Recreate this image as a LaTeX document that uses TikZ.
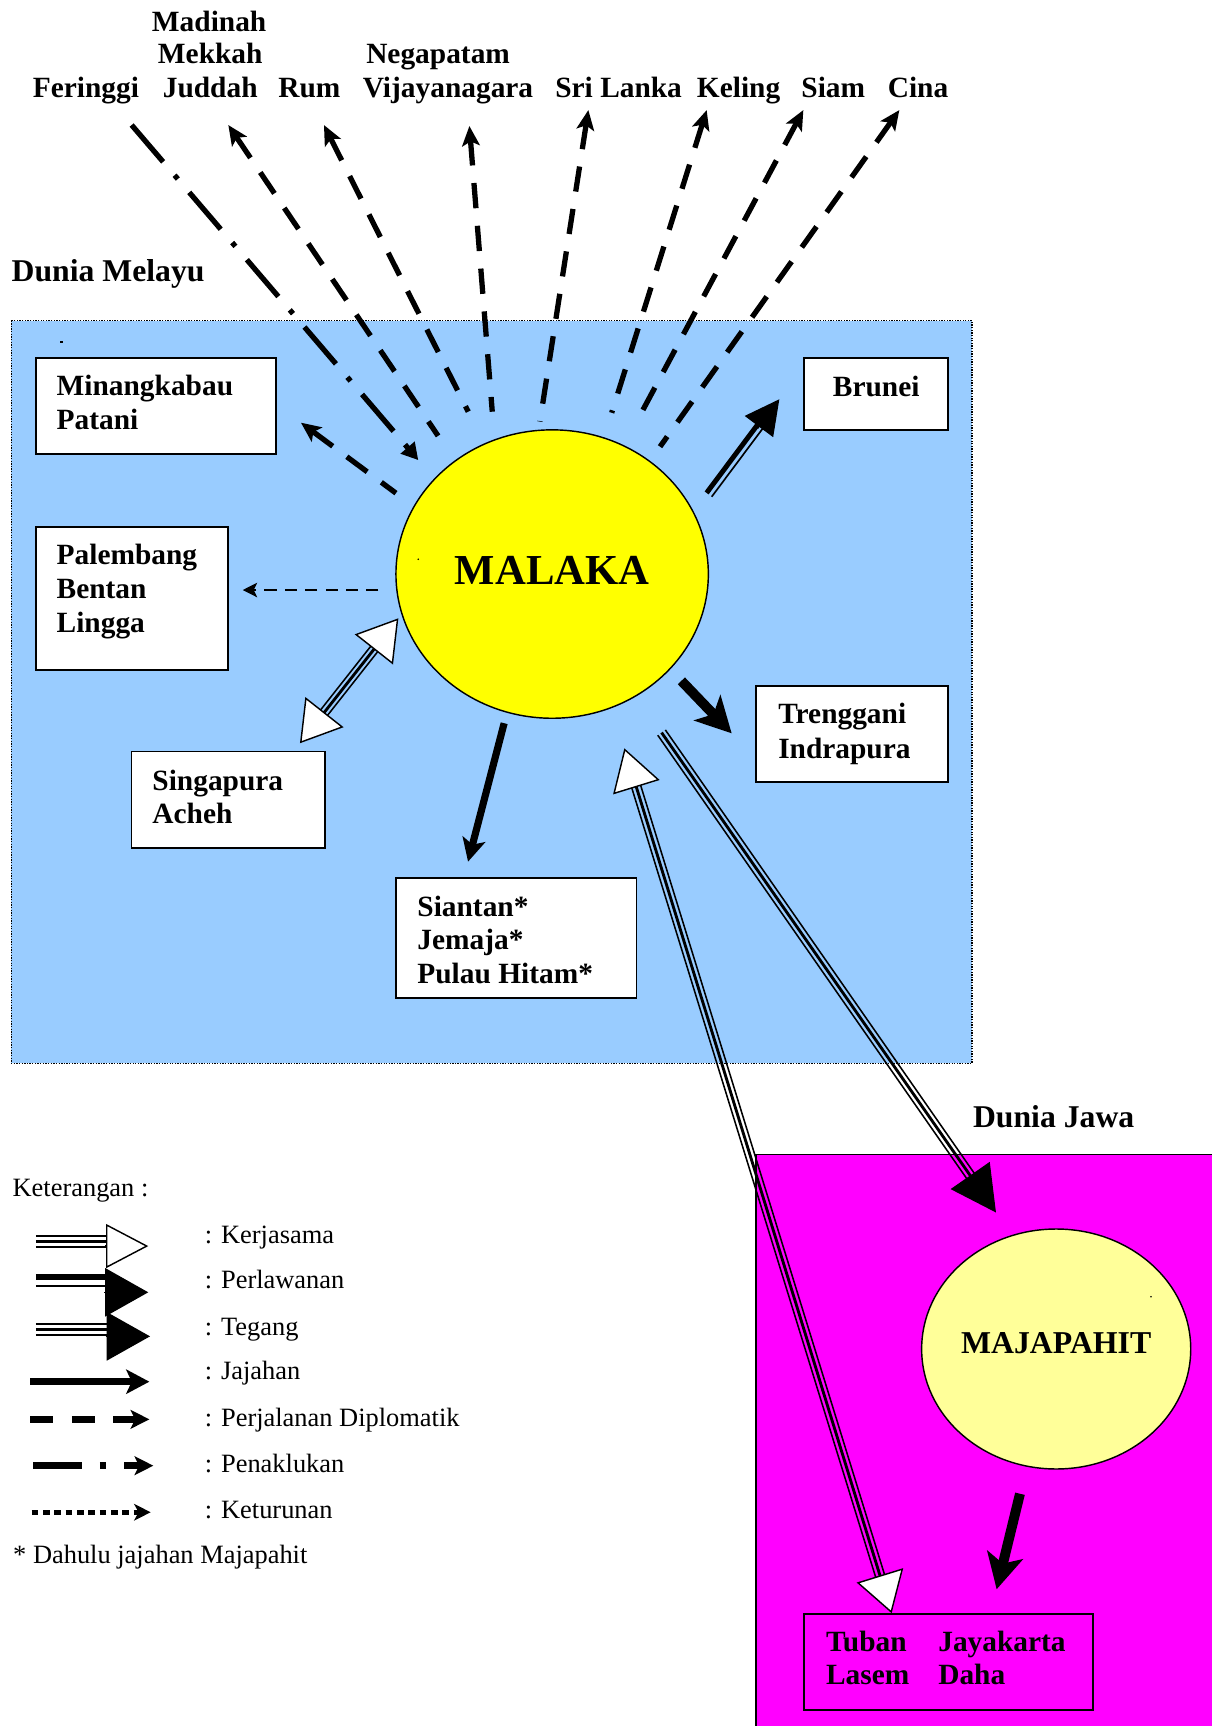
\documentclass[tikz,border=0pt]{standalone}
\usepackage{fontspec}
\setmainfont{Liberation Serif}
\usetikzlibrary{arrows.meta,calc,shapes.geometric}
\definecolor{melayu}{RGB}{153,204,255}
\definecolor{jawa}{RGB}{255,0,255}
\definecolor{malakayel}{RGB}{255,255,0}
\definecolor{majayel}{RGB}{255,255,153}
\newcommand\lblfont{\fontsize{26.7pt}{31pt}\selectfont\bfseries}
\newcommand\dunfont{\fontsize{28.8pt}{33pt}\selectfont\bfseries}
\newcommand\legfont{\fontsize{24pt}{28pt}\selectfont}
\newcommand\tripline[5]{%
  \draw[line width=1.4pt, shorten <=#3, shorten >=#4] ($(#1)!#5!90:(#2)$) -- ($(#2)!#5!-90:(#1)$);
  \draw[line width=2.6pt, shorten <=#3, shorten >=#4] (#1) -- (#2);
  \draw[line width=1.4pt, shorten <=#3, shorten >=#4] ($(#1)!#5!-90:(#2)$) -- ($(#2)!#5!90:(#1)$);
}
\begin{document}
\begin{tikzpicture}[x=1pt,y=-1pt,
  every node/.style={inner sep=0pt,outer sep=0pt},
  box/.style={draw,line width=1.6pt,fill=white,rectangle,anchor=north west},
  lbl/.style={font=\lblfont,anchor=base west},
  toplbl/.style={font=\lblfont,anchor=base},
  leg/.style={font=\legfont,anchor=base west},
  diplo/.style={line width=4.8pt,dash pattern=on 23pt off 16pt,>={Stealth[length=18pt,width=16pt,inset=4pt]},<-},
  whitehead/.style={line width=1.3pt,-{Triangle[length=#1,width=44pt,fill=white]}},
  blackhead/.style={line width=1.3pt,-{Triangle[length=#1,width=43pt]}}
]
\useasboundingbox (0,0) rectangle (1101,1568);
\fill[white] (0,0) rectangle (1101,1568);

% regions
\draw[fill=melayu,line width=1.4pt,dash pattern=on 1.2pt off 1.2pt] (10.4,291.2) rectangle (883,966);
\draw[fill=jawa,line width=1.4pt] (686.8,1048.7) rectangle (1115,1585);
\node[lbl,font=\dunfont] (dmelayu) at (10.6,255.9) {Dunia Melayu};
\node[lbl,font=\dunfont] (djawa) at (884,1024) {Dunia Jawa};

% top labels
\node[toplbl] (madinah) at (190,28.8) {Madinah};
\node[toplbl] (mekkah) at (191,57.5) {Mekkah};
\node[toplbl] (negapatam) at (398,57.5) {Negapatam};
\node[toplbl] (feringgi) at (78,88.4) {Feringgi};
\node[toplbl] (juddah) at (191,88.4) {Juddah};
\node[toplbl] (rum) at (281,88.4) {Rum};
\node[toplbl] (vijaya) at (407,88.4) {Vijayanagara};
\node[toplbl] (srilanka) at (562,88.4) {Sri Lanka};
\node[toplbl] (keling) at (671,88.4) {Keling};
\node[toplbl] (siam) at (757,88.4) {Siam};
\node[toplbl] (cina) at (834,88.4) {Cina};

% boxes
\node[box,minimum width=218.3pt,minimum height=87.2pt] (minang) at (32.4,325.5) {};
\node[lbl] (minang1) at (51.5,359.7) {Minangkabau};
\node[lbl] (minang2) at (51.5,390) {Patani};

\node[box,minimum width=174.7pt,minimum height=130.1pt] (palem) at (32.4,478.5) {};
\node[lbl] (palem1) at (51.5,512.7) {Palembang};
\node[lbl] (palem2) at (51.5,543.5) {Bentan};
\node[lbl] (palem3) at (51.5,574.5) {Lingga};

\node[box,minimum width=175.5pt,minimum height=87.8pt] (singa) at (119.4,682.8) {};
\node[lbl] (singa1) at (138.5,717.7) {Singapura};
\node[lbl] (singa2) at (138.5,748) {Acheh};

\node[box,minimum width=218.5pt,minimum height=109pt] (siantan) at (359.7,797.9) {};
\node[lbl] (siantan1) at (379.2,832.7) {Siantan*};
\node[lbl] (siantan2) at (379.2,862.5) {Jemaja*};
\node[lbl] (siantan3) at (379.2,893.3) {Pulau Hitam*};

\node[box,minimum width=131.1pt,minimum height=65.1pt] (brunei) at (730.4,325.5) {};
\node[toplbl] (brunei1) at (796,360) {Brunei};

\node[box,minimum width=174.7pt,minimum height=87.5pt] (treng) at (686.8,623.2) {};
\node[lbl] (treng1) at (707,657.7) {Trenggani};
\node[lbl] (treng2) at (707,688.9) {Indrapura};

\node[box,fill=jawa,minimum width=262.3pt,minimum height=86.9pt] (tuban) at (730.4,1466.2) {};
\node[lbl] (tuban1) at (750.4,1500.5) {Tuban};
\node[lbl] (tuban2) at (750.4,1530.7) {Lasem};
\node[lbl] (tuban3) at (852.4,1500.5) {Jayakarta};
\node[lbl] (tuban4) at (852.4,1530.7) {Daha};

% ellipses
\node[ellipse,draw,line width=1.3pt,fill=malakayel,minimum width=283.8pt,minimum height=262pt,
  font=\fontsize{38.8pt}{44pt}\selectfont\bfseries,text height=25.7pt,text depth=6pt] (malaka) at (501.6,521.5) {MALAKA};
\node[ellipse,draw,line width=1.3pt,fill=majayel,minimum width=240pt,minimum height=218pt,
  font=\fontsize{28.9pt}{34pt}\selectfont\bfseries,text height=19.1pt,text depth=10.1pt] (maja) at (959.5,1225.5) {MAJAPAHIT};

% tiny marks
\fill (54.5,309.6) rectangle (57.5,311.2);
\fill (380,508) circle (0.8pt);
\fill (1045.6,1178) circle (0.8pt);

% connector end points
\coordinate (ferA) at (119.6,113.6); \coordinate (ferB) at (380,418);
\coordinate (judT) at (207.4,113.6); \coordinate (judM) at (398,396);
\coordinate (rumT) at (294.3,113.6); \coordinate (rumM) at (425.4,374);
\coordinate (vijT) at (426.4,114.5); \coordinate (vijM) at (447.2,374);
\coordinate (sriT) at (534.5,100); \coordinate (sriM) at (490.5,383);
\coordinate (kelT) at (642,100); \coordinate (kelM) at (555.7,375);
\coordinate (siaT) at (729.8,100); \coordinate (siaM) at (578.4,383);
\coordinate (cinT) at (817,100); \coordinate (cinM) at (599.6,405.8);
\coordinate (minT) at (273.4,384); \coordinate (minM) at (359.7,448);
\coordinate (palM) at (343.7,536); \coordinate (palT) at (220.5,536);
\coordinate (sinA) at (272.5,675.2); \coordinate (sinB) at (361.9,561.7);
\coordinate (bruS) at (643.5,449); \coordinate (bruT) at (708,362.7);
\coordinate (treS) at (619,618.5); \coordinate (treT) at (664.7,666.2);
\coordinate (sntS) at (458,657); \coordinate (sntT) at (425.2,782.8);
\coordinate (tegS) at (601,665.5); \coordinate (tegT) at (904.8,1101.5);
\coordinate (tubM) at (567.2,679.8); \coordinate (tubT) at (810,1465.5);
\coordinate (majS) at (926.6,1357); \coordinate (majT) at (905.4,1443.8);

% Penaklukan (Feringgi)
\draw[line width=4.8pt,dash pattern=on 44pt off 16pt on 4.5pt off 16pt,-{Triangle[length=15pt,width=16pt]}] (ferA) -- (ferB);
% Diplomatik
\draw[diplo] (judT) -- (judM);
\draw[diplo] (rumT) -- (rumM);
\draw[diplo] (vijT) -- (vijM);
\draw[diplo] (sriT) -- (sriM);
\draw[diplo] (kelT) -- (kelM);
\draw[diplo] (siaT) -- (siaM);
\draw[diplo] (cinT) -- (cinM);
\draw[diplo] (minT) -- (minM);
% thin dashed (Palembang)
\draw[line width=2.4pt,dash pattern=on 11pt off 7.5pt,-{Stealth[length=13pt,width=13pt,inset=3pt]}] (palM) -- (palT);

% Kerjasama Singapura
\tripline{sinA}{sinB}{33pt}{33pt}{4pt}
\draw[whitehead=36pt] ($(sinA)!38pt!(sinB)$) -- (sinA);
\draw[whitehead=36pt] ($(sinB)!38pt!(sinA)$) -- (sinB);

% Perlawanan Brunei
\draw[line width=4.5pt,shorten >=28pt] ($(bruS)!2pt!90:(bruT)$) -- ($(bruT)!2pt!-90:(bruS)$);
\draw[line width=1.5pt,shorten >=28pt] ($(bruS)!3.8pt!-90:(bruT)$) -- ($(bruT)!3.8pt!90:(bruS)$);
\draw[line width=1.3pt,-{Triangle[length=31pt,width=32pt]}] ($(bruT)!33pt!(bruS)$) -- (bruT);

% Jajahan
\draw[line width=9pt,-{Stealth[length=32pt,width=33pt,inset=8pt]}] (treS) -- (treT);
\draw[line width=6.5pt,-{Stealth[length=21pt,width=21pt,inset=5pt]}] (sntS) -- (sntT);
\draw[line width=9pt,-{Stealth[length=32pt,width=33pt,inset=8pt]}] (majS) -- (majT);

% Tegang Malaka - Majapahit
\tripline{tegS}{tegT}{0pt}{38pt}{4.2pt}
\draw[blackhead=41pt] ($(tegT)!43pt!(tegS)$) -- (tegT);

% Kerjasama Malaka - Tuban
\tripline{tubM}{tubT}{34pt}{33pt}{4.2pt}
\draw[whitehead=37pt] ($(tubM)!39pt!(tubT)$) -- (tubM);
\draw[whitehead=36pt] ($(tubT)!38pt!(tubM)$) -- (tubT);

% legend
\node[leg] (ket) at (11.5,1087) {Keterangan :};
\coordinate (k1a) at (32.7,1128); \coordinate (k1b) at (97,1128);
\tripline{k1a}{k1b}{0pt}{0pt}{5pt}
\draw[line width=1.3pt,-{Triangle[length=38.4pt,width=40pt,fill=white]}] (95.5,1132) -- (134.7,1132);
\node[leg] (l1) at (186.2,1129.5) {: Kerjasama};

\draw[line width=5.5pt] (32.7,1160) -- (96,1160);
\draw[line width=1.8pt] (32.7,1168.5) -- (96,1168.5);
\draw[line width=1.3pt,-{Triangle[length=39.3pt,width=44pt]}] (94.5,1174) -- (134.7,1174);
\node[leg] (l2) at (186.2,1170.4) {: Perlawanan};

\coordinate (k3a) at (32.7,1208); \coordinate (k3b) at (98,1208);
\tripline{k3a}{k3b}{0pt}{0pt}{5pt}
\draw[line width=1.3pt,-{Triangle[length=39.4pt,width=44pt]}] (96,1214) -- (136.3,1214);
\node[leg] (l3) at (186.2,1212.8) {: Tegang};

\draw[line width=6pt,-{Stealth[length=21pt,width=22pt,inset=5pt]}] (27.3,1255.2) -- (135.7,1255.2);
\node[leg] (l4) at (186.2,1253.6) {: Jajahan};

\draw[line width=6.5pt,dash pattern=on 21.2pt off 16.7pt,-{Stealth[length=17pt,width=17pt,inset=4pt]}] (27.3,1289.4) -- (135.7,1289.4);
\node[leg] (l5) at (186.2,1296) {: Perjalanan Diplomatik};

\draw[line width=6pt,dash pattern=on 44pt off 16.5pt on 5.5pt off 16.5pt,-{Stealth[length=17pt,width=17pt,inset=4pt]}] (30.3,1331.5) -- (139.3,1331.5);
\node[leg] (l6) at (186.2,1337.8) {: Penaklukan};

\draw[line width=4.5pt,dash pattern=on 6pt off 4.3pt,-{Stealth[length=15pt,width=15pt,inset=4pt]}] (28.8,1373.8) -- (136.9,1373.8);
\node[leg] (l7) at (186.2,1379.3) {: Keturunan};

\node[leg] (note) at (12,1420.2) {* Dahulu jajahan Majapahit};
\end{tikzpicture}
\end{document}
